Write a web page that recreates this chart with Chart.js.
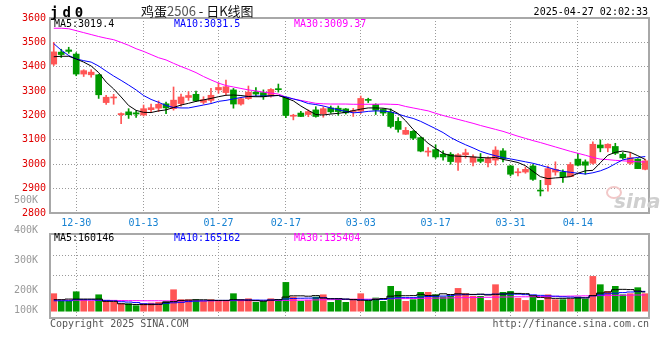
<!DOCTYPE html>
<html lang="zh-CN">
<head>
<meta charset="UTF-8">
<title>鸡蛋2506 - 日K线图</title>
<script src="https://cdn.jsdelivr.net/npm/chart.js"></script>
<style>
    body { margin: 0; background: #fff; }
    #wrap { position: relative; width: 660px; height: 360px; overflow: hidden; font-family: "DejaVu Sans Mono", monospace; font-size: 10px; }
    canvas { position: absolute; left: 0; }
    .t { position: absolute; white-space: nowrap; line-height: 12px; }
</style>
</head>
<body>
<div id="wrap">
    <canvas id="kChart" width="660" height="230" style="top:0"></canvas>
    <canvas id="vChart" width="660" height="170" style="top:190px"></canvas>

    <div class="t" style="left:50px;top:4px;font-weight:bold;font-size:14px;letter-spacing:4px;line-height:16px">jd0</div>
    <div class="t" style="left:141px;top:3px;font-family:'Noto Sans CJK SC';font-size:13px;line-height:16px;color:#111">鸡蛋<span style="color:#555">2506</span> - 日K线图</div>
    <div class="t" style="right:12px;top:6px;color:#000">2025-04-27 02:02:33</div>

    <div class="t" id="kMa5" style="left:54px;top:18px;color:#000"></div>
    <div class="t" id="kMa10" style="left:174px;top:18px;color:#0000ff"></div>
    <div class="t" id="kMa30" style="left:294px;top:18px;color:#ff00ff"></div>

    <div class="t" id="vMa5" style="left:54px;top:232px;color:#000"></div>
    <div class="t" id="vMa10" style="left:174px;top:232px;color:#0000ff"></div>
    <div class="t" id="vMa30" style="left:294px;top:232px;color:#ff00ff"></div>

    <div class="t" style="left:606px;top:186px;width:12px;height:9px;border-radius:50%;border:2px solid #f2c8c8"></div>
    <div class="t" style="left:614px;top:191px;font-family:'DejaVu Sans';font-weight:bold;font-style:italic;font-size:20px;line-height:20px;color:#cfcfcf">sina</div>

    <div class="t" style="left:50px;top:318px;color:#555">Copyright 2025 SINA.COM</div>
    <div class="t" style="right:11px;top:318px;color:#555">http://finance.sina.com.cn</div>
</div>

<script>
    // trading days shown on the chart
    var dates = ['12-25','12-26','12-27','12-30','12-31','01-02','01-03','01-06','01-07','01-08',
        '01-09','01-10','01-13','01-14','01-15','01-16','01-17','01-20','01-21','01-22',
        '01-23','01-24','01-27','02-05','02-06','02-07','02-10','02-11','02-12','02-13',
        '02-14','02-17','02-18','02-19','02-20','02-21','02-24','02-25','02-26','02-27',
        '02-28','03-03','03-04','03-05','03-06','03-07','03-10','03-11','03-12','03-13',
        '03-14','03-17','03-18','03-19','03-20','03-21','03-24','03-25','03-26','03-27',
        '03-28','03-31','04-01','04-02','04-03','04-07','04-08','04-09','04-10','04-11',
        '04-14','04-15','04-16','04-17','04-18','04-21','04-22','04-23','04-24','04-25'];
    var tickDates = ['12-30','01-13','01-27','02-17','03-03','03-17','03-31','04-14'];

    var opens = [3411,3460,3469,3452,3370,3367,3367,3253,3272,3203,
        3215,3211,3202,3224,3230,3248,3228,3249,3274,3287,
        3254,3262,3305,3294,3305,3247,3269,3296,3294,3280,
        3308,3275,3197,3210,3204,3223,3207,3231,3230,3227,
        3216,3218,3265,3245,3225,3213,3176,3123,3135,3109,
        3050,3060,3041,3041,3008,3039,3008,3022,3006,3017,
        3055,2993,2965,2968,2993,2892,2916,2968,2968,2949,
        3021,3010,3004,3079,3067,3073,3041,3004,3021,2979];
    var highs = [3500,3472,3480,3458,3388,3388,3369,3283,3287,3211,
        3228,3219,3243,3247,3260,3255,3317,3288,3298,3300,
        3277,3311,3334,3345,3311,3275,3321,3315,3305,3310,
        3329,3277,3205,3217,3223,3236,3236,3239,3239,3229,
        3229,3280,3271,3248,3228,3227,3191,3151,3138,3112,
        3068,3080,3055,3048,3044,3062,3039,3044,3030,3072,
        3064,2996,2982,2989,2999,2934,2993,3010,2977,3007,
        3045,3018,3092,3100,3084,3086,3048,3048,3023,3021];
    var lows = [3405,3438,3455,3363,3360,3357,3270,3245,3246,3166,
        3188,3192,3198,3213,3216,3207,3222,3238,3262,3258,
        3247,3254,3291,3283,3230,3242,3266,3280,3266,3275,
        3296,3191,3182,3195,3195,3193,3193,3209,3201,3206,
        3196,3208,3253,3204,3200,3149,3132,3122,3101,3051,
        3033,3024,3017,3000,2975,3025,2993,3006,2989,2996,
        3010,2952,2952,2963,2934,2870,2890,2955,2925,2949,
        2993,2959,3000,3051,3051,3040,3021,3000,2982,2977];
    var closes = [3461,3450,3463,3370,3384,3378,3285,3275,3274,3208,
        3203,3206,3228,3232,3246,3231,3263,3276,3282,3260,
        3265,3283,3315,3318,3247,3269,3296,3288,3277,3307,
        3306,3200,3199,3196,3216,3196,3228,3215,3216,3211,
        3218,3270,3262,3222,3210,3155,3143,3139,3107,3054,
        3052,3030,3030,3011,3039,3047,3030,3012,3025,3058,
        3023,2959,2967,2979,2938,2890,2982,2979,2949,2999,
        2996,2996,3082,3067,3082,3045,3026,3027,2982,3014];

    var ma5 = [3441,3443,3443,3432,3419,3403,3376,3337,3309,3276,
        3241,3221,3213,3212,3219,3223,3233,3243,3250,3258,
        3264,3270,3277,3283,3284,3282,3278,3277,3277,3281,
        3282,3272,3260,3239,3221,3204,3202,3206,3209,3213,
        3220,3226,3231,3231,3230,3225,3208,3178,3143,3114,
        3086,3065,3045,3035,3033,3032,3030,3028,3026,3028,
        3020,3014,3007,2994,2971,2949,2941,2944,2946,2949,
        2963,2973,2975,3006,3037,3049,3054,3049,3035,3019.4];
    var ma10 = [3495,3468,3446,3432,3425,3419,3403,3382,3362,3344,
        3325,3305,3282,3266,3254,3241,3233,3231,3231,3237,
        3243,3249,3258,3262,3268,3274,3278,3280,3280,3281,
        3282,3276,3268,3260,3249,3245,3239,3231,3223,3217,
        3211,3213,3217,3219,3218,3215,3206,3196,3188,3176,
        3161,3146,3130,3110,3094,3080,3067,3053,3043,3035,
        3027,3022,3016,3010,3004,2996,2987,2978,2971,2967,
        2963,2960,2965,2973,2985,3002,3018,3024,3028,3031.5];
    var ma30 = [3558,3558,3556,3548,3540,3532,3524,3517,3511,3500,
        3488,3474,3463,3450,3437,3428,3414,3401,3389,3376,
        3360,3346,3333,3323,3317,3311,3305,3301,3296,3292,
        3288,3276,3268,3262,3256,3250,3248,3247,3247,3247,
        3246,3246,3246,3246,3247,3246,3245,3237,3231,3225,
        3219,3209,3200,3192,3184,3176,3168,3159,3151,3143,
        3135,3125,3115,3106,3097,3089,3080,3071,3062,3053,
        3045,3037,3028,3021,3019,3016,3014,3012,3010,3009.37];

    var volumes = [146000,82000,82000,162000,96000,82000,137000,82000,74000,62000,
        62000,46000,62000,68000,74000,82000,179000,96000,96000,96000,
        82000,96000,85000,85000,146000,96000,104000,74000,82000,104000,
        96000,240000,118000,82000,90000,118000,137000,74000,101000,74000,
        101000,146000,82000,110000,82000,207000,165000,82000,96000,157000,
        157000,137000,118000,124000,190000,146000,124000,124000,90000,221000,
        157000,165000,107000,90000,124000,90000,137000,96000,96000,101000,
        118000,101000,290000,221000,165000,207000,137000,146000,196000,146000];
    var volMa5 = [96000,96000,101000,101000,101000,101000,101000,82000,82000,62000,
        58000,56000,55000,55000,58000,74000,80000,90000,92000,95000,
        95000,92000,90000,90000,96000,94000,92000,88000,84000,92000,
        96000,118000,128000,128000,125000,130000,110000,104000,104000,101000,
        97000,92000,90000,98000,105000,125000,129000,129000,130000,141000,
        131000,133000,145000,139000,145000,143000,140000,142000,135000,141000,
        143000,151000,148000,146000,129000,115000,110000,107000,107000,108000,
        110000,111000,130000,151000,160000,179000,182000,180000,168000,160146];
    var volMa10 = [87000,87000,87000,96000,96000,96000,92000,90000,86000,79000,
        76000,72000,62000,60000,58000,66000,70000,74000,80000,84000,
        86000,88000,90000,90000,92000,94000,94000,93000,92000,94000,
        95000,102000,106000,108000,109000,110000,112000,104000,104000,100000,
        96000,95000,94000,96000,98000,108000,112000,113000,113000,118000,
        122000,124000,126000,130000,136000,138000,138000,140000,140000,142000,
        143000,142000,142000,138000,136000,132000,128000,125000,120000,118000,
        115000,112000,128000,136000,145000,150000,155000,160000,163000,165162];
    var volMa30 = [93000,93000,92000,92000,92000,91000,91000,90000,90000,89000,
        88000,88000,87000,87000,87000,86000,86000,86000,86000,86000,
        86000,87000,87000,87000,88000,88000,88000,88000,88000,89000,
        89000,90000,91000,92000,93000,94000,95000,96000,97000,98000,
        99000,100000,100000,101000,102000,103000,104000,105000,106000,107000,
        108000,109000,110000,111000,112000,113000,114000,115000,116000,117000,
        118000,119000,120000,120000,121000,122000,123000,124000,125000,126000,
        127000,128000,129000,130000,131000,132000,133000,134000,135000,135404];

    // volume axis labels as Sina prints them
    var volTickValues = [500000, 400000, 300000, 200000, 131000];
    var volTickLabels = ['500K', '400K', '300K', '200K', '100K'];

    var RED = '#ff5555', GREEN = '#009900';
    var GRID = '#9a9a9a';
    var monoFont = { family: 'DejaVu Sans Mono', size: 10 };

    // up day = red, down day = green
    var candleColors = closes.map(function (c, i) { return c >= opens[i] ? RED : GREEN; });

    var framePlugin = {
        id: 'frame',
        afterDraw: function (chart) {
            var a = chart.chartArea, ctx = chart.ctx;
            ctx.save();
            ctx.strokeStyle = '#a8a8a8';
            ctx.lineWidth = 2;
            ctx.strokeRect(a.left, a.top, a.right - a.left, a.bottom - a.top);
            ctx.restore();
        }
    };

    function keepTickDates(scale) {
        scale.ticks = scale.ticks.filter(function (t) { return tickDates.indexOf(dates[t.value]) >= 0; });
    }

    function maLine(data, color, axis, stepped) {
        var ds = {
            type: 'line', data: data, borderColor: color, borderWidth: 1,
            pointRadius: 0, tension: 0, order: 0, stepped: stepped || false
        };
        if (axis) ds.yAxisID = axis;
        return ds;
    }

    document.getElementById('kMa5').textContent = 'MA5:' + ma5[ma5.length - 1];
    document.getElementById('kMa10').textContent = 'MA10:' + ma10[ma10.length - 1];
    document.getElementById('kMa30').textContent = 'MA30:' + ma30[ma30.length - 1];
    document.getElementById('vMa5').textContent = 'MA5:' + volMa5[volMa5.length - 1];
    document.getElementById('vMa10').textContent = 'MA10:' + volMa10[volMa10.length - 1];
    document.getElementById('vMa30').textContent = 'MA30:' + volMa30[volMa30.length - 1];

    // candlesticks: wick = [low, high], body = [open, close]
    new Chart(document.getElementById('kChart'), {
        type: 'bar',
        data: {
            labels: dates,
            datasets: [
                maLine(ma5, '#000000'),
                maLine(ma10, '#0000ff'),
                maLine(ma30, '#ff00ff'),
                {
                    data: opens.map(function (o, i) { return [o, closes[i]]; }),
                    backgroundColor: candleColors, barThickness: 6, minBarLength: 1,
                    grouped: false, order: 1
                },
                {
                    data: lows.map(function (l, i) { return [l, highs[i]]; }),
                    backgroundColor: candleColors, barThickness: 1,
                    grouped: false, order: 2
                }
            ]
        },
        options: {
            responsive: false,
            animation: false,
            events: [],
            layout: { padding: { top: 18, right: 11, left: 0, bottom: 0 } },
            plugins: { legend: { display: false }, tooltip: { enabled: false } },
            scales: {
                x: {
                    offset: true,
                    grid: { offset: false, color: GRID, drawTicks: false },
                    border: { display: false, dash: [1, 2] },
                    ticks: { autoSkip: false, maxRotation: 0, color: '#1782d2', font: monoFont, padding: 4 },
                    afterBuildTicks: keepTickDates,
                    afterFit: function (s) { s.height = 17; }
                },
                y: {
                    min: 2800, max: 3600,
                    ticks: {
                        stepSize: 100, color: '#e00000', font: monoFont, padding: 4,
                        callback: function (v) { return String(v); }
                    },
                    grid: { color: GRID, drawTicks: false },
                    border: { display: false, dash: [1, 2] },
                    afterFit: function (s) { s.width = 50; }
                }
            }
        },
        plugins: [framePlugin]
    });

    // volume panel
    new Chart(document.getElementById('vChart'), {
        type: 'bar',
        data: {
            labels: dates,
            datasets: [
                maLine(volMa5, '#000000', 'yv', 'middle'),
                maLine(volMa10, '#0000ff', 'yv', 'middle'),
                maLine(volMa30, '#ff00ff', 'yv', 'middle'),
                {
                    data: volumes, yAxisID: 'yv',
                    backgroundColor: candleColors, barThickness: 6, order: 1
                }
            ]
        },
        options: {
            responsive: false,
            animation: false,
            events: [],
            layout: { padding: { top: 44, right: 11, left: 0, bottom: 42 } },
            plugins: { legend: { display: false }, tooltip: { enabled: false } },
            scales: {
                x: {
                    offset: true,
                    grid: { offset: false, color: GRID, drawTicks: false },
                    border: { display: false, dash: [1, 2] },
                    ticks: { display: false, autoSkip: false },
                    afterBuildTicks: keepTickDates,
                    afterFit: function (s) { s.height = 0; }
                },
                yl: {
                    position: 'left',
                    min: 106700, max: 386700,
                    grid: { display: false },
                    border: { display: false },
                    ticks: {
                        autoSkip: false, color: '#9a9a9a', font: monoFont, padding: 4,
                        callback: function (v, i) { return volTickLabels[i]; }
                    },
                    afterBuildTicks: function (s) {
                        s.ticks = volTickValues.map(function (v) { return { value: v }; });
                    },
                    afterFit: function (s) { s.width = 50; }
                },
                yv: {
                    position: 'right',
                    min: -56700, max: 643300,
                    grid: { color: GRID, drawTicks: false },
                    border: { display: false, dash: [1, 2] },
                    ticks: { display: false },
                    afterBuildTicks: function (s) { s.ticks = [{ value: 298000 }, { value: 465000 }]; },
                    afterFit: function (s) { s.width = 0; }
                }
            }
        },
        plugins: [framePlugin]
    });
</script>
</body>
</html>
